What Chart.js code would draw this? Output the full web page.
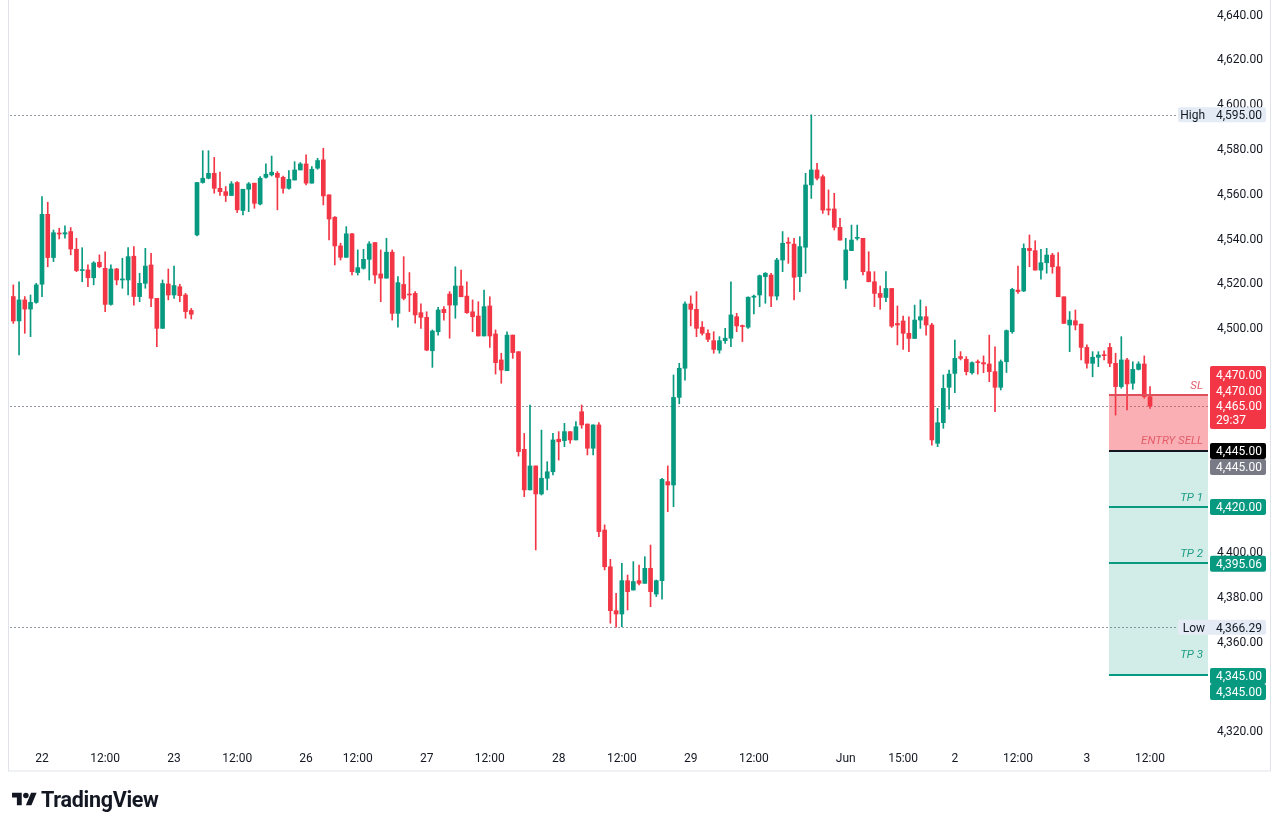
<!DOCTYPE html>
<html lang="en">
<head>
<meta charset="utf-8">
<title>1H candles with short position</title>
<script src="https://cdn.jsdelivr.net/npm/chart.js@4.4.1/dist/chart.umd.min.js"></script>
<style>
  html, body { margin: 0; padding: 0; background: #ffffff; }
  #wrap { position: relative; width: 1280px; height: 827px; overflow: hidden; }
  #chart { position: absolute; left: 0; top: 0; }
  .brand {
    position: absolute; left: 11px; top: 787px; height: 24px;
    display: flex; align-items: center; gap: 3px;
    font-family: Roboto, "Noto Sans", sans-serif; font-weight: 700; font-size: 21.5px;
    color: #131722; letter-spacing: -0.3px;
  }
</style>
</head>
<body>
<div id="wrap">
  <canvas id="chart" width="1280" height="827"></canvas>
  <div class="brand">
    <svg width="27" height="18" viewBox="0 0 36 26"><path d="M14 22H7V11H0V4h14v18zM28 22h-8l7.5-18h8L28 22z" fill="#131722"/><circle cx="20" cy="8" r="4" fill="#131722"/></svg>
    <span>TradingView</span>
  </div>
</div>
<script>
// hourly candles (oldest first)
const open = [
  4513.9, 4503.0, 4512.4, 4508.3, 4511.3, 4519.4, 4550.6, 4531.3, 4542.1, 4541.8,
  4542.9, 4535.0, 4525.5, 4525.8, 4522.3, 4529.2, 4526.5, 4510.4, 4526.2, 4521.3,
  4521.3, 4531.9, 4513.9, 4519.8, 4528.0, 4513.1, 4499.7, 4519.5, 4514.6, 4518.3,
  4514.6, 4507.7, 4541.4, 4564.8, 4566.7, 4568.9, 4562.2, 4560.7, 4559.0, 4564.8,
  4552.3, 4561.8, 4564.5, 4555.2, 4567.1, 4568.2, 4568.9, 4567.1, 4562.2, 4565.9,
  4570.4, 4573.1, 4564.5, 4571.2, 4574.9, 4559.3, 4549.3, 4536.5, 4531.4, 4541.9,
  4524.6, 4526.5, 4530.5, 4538.0, 4524.0, 4522.1, 4533.7, 4506.4, 4519.3, 4514.9,
  4515.3, 4506.7, 4504.6, 4489.7, 4498.2, 4508.2, 4515.0, 4510.1, 4518.6, 4514.1,
  4507.1, 4505.2, 4496.3, 4509.7, 4497.2, 4485.6, 4480.8, 4496.7, 4489.3, 4445.7,
  4427.6, 4438.3, 4425.8, 4432.8, 4435.7, 4450.2, 4449.6, 4453.6, 4449.9, 4462.5,
  4457.0, 4446.2, 4456.6, 4409.7, 4393.3, 4373.7, 4372.2, 4387.1, 4382.9, 4387.1,
  4385.9, 4392.6, 4381.1, 4387.1, 4431.3, 4429.8, 4468.9, 4481.9, 4510.6, 4508.2,
  4500.2, 4497.5, 4494.2, 4490.0, 4494.2, 4495.3, 4504.9, 4500.9, 4500.2, 4513.6,
  4514.6, 4522.8, 4523.5, 4514.1, 4530.2, 4537.9, 4537.3, 4522.8, 4535.9, 4563.7,
  4570.4, 4567.4, 4553.0, 4553.0, 4544.8, 4521.3, 4534.4, 4539.9, 4539.9, 4525.0,
  4520.5, 4515.3, 4513.5, 4517.5, 4501.9, 4503.0, 4497.5, 4495.2, 4503.4, 4504.9,
  4501.2, 4448.4, 4457.6, 4473.4, 4479.6, 4487.1, 4485.9, 4479.9, 4484.8, 4484.4,
  4483.8, 4480.4, 4473.4, 4484.8, 4498.2, 4516.8, 4516.4, 4535.4, 4534.4, 4525.7,
  4529.0, 4532.4, 4527.2, 4513.8, 4501.2, 4503.1, 4501.6, 4491.2, 4484.1, 4486.8,
  4487.8, 4491.2, 4484.1, 4473.7, 4485.6, 4475.2, 4481.4, 4483.8, 4469.2
];
const high = [
  4519.1, 4520.5, 4513.9, 4514.6, 4519.8, 4558.5, 4556.0, 4543.6, 4544.4, 4545.5,
  4544.7, 4539.9, 4535.7, 4528.0, 4529.5, 4532.5, 4533.9, 4528.0, 4526.5, 4531.0,
  4535.7, 4536.2, 4524.3, 4535.4, 4533.2, 4513.1, 4521.3, 4526.2, 4527.5, 4519.4,
  4515.3, 4508.6, 4564.8, 4579.0, 4579.0, 4576.0, 4569.4, 4563.0, 4565.2, 4565.2,
  4561.8, 4564.8, 4564.5, 4567.4, 4573.1, 4576.6, 4569.7, 4567.7, 4570.1, 4574.1,
  4573.7, 4577.1, 4571.9, 4575.6, 4580.1, 4559.3, 4549.6, 4537.7, 4545.1, 4542.1,
  4534.7, 4535.0, 4538.4, 4538.0, 4534.7, 4539.9, 4534.7, 4522.8, 4531.7, 4524.6,
  4516.1, 4510.6, 4507.1, 4499.0, 4509.1, 4509.4, 4516.1, 4527.2, 4525.7, 4520.5,
  4512.4, 4511.6, 4516.8, 4513.8, 4499.0, 4488.6, 4498.2, 4496.7, 4489.3, 4452.8,
  4465.5, 4438.3, 4454.3, 4440.2, 4452.9, 4453.6, 4457.3, 4453.6, 4458.1, 4465.5,
  4457.0, 4456.6, 4457.6, 4412.0, 4396.6, 4381.4, 4394.8, 4389.6, 4395.6, 4394.1,
  4397.8, 4403.0, 4387.4, 4432.8, 4438.3, 4478.9, 4484.1, 4511.5, 4514.2, 4516.1,
  4502.7, 4499.0, 4498.2, 4496.0, 4499.7, 4520.5, 4506.4, 4501.2, 4513.8, 4514.6,
  4523.5, 4524.6, 4524.3, 4531.0, 4542.9, 4540.2, 4539.9, 4540.6, 4568.9, 4595.0,
  4573.4, 4568.2, 4561.5, 4560.0, 4548.8, 4539.9, 4545.8, 4545.8, 4539.9, 4533.9,
  4525.0, 4518.6, 4525.0, 4517.5, 4509.7, 4505.2, 4504.9, 4510.1, 4512.4, 4509.4,
  4501.9, 4464.0, 4478.9, 4481.1, 4494.5, 4489.3, 4487.1, 4484.8, 4485.6, 4487.4,
  4496.7, 4491.5, 4485.6, 4499.0, 4517.6, 4527.5, 4537.4, 4541.4, 4538.8, 4535.0,
  4535.4, 4533.2, 4533.5, 4513.8, 4507.2, 4507.9, 4501.6, 4492.3, 4489.3, 4489.3,
  4489.7, 4493.0, 4488.6, 4496.0, 4486.3, 4484.8, 4484.8, 4487.4, 4473.7
];
const low = [
  4501.9, 4487.8, 4497.5, 4496.0, 4510.9, 4513.9, 4527.2, 4529.5, 4539.6, 4539.9,
  4532.5, 4525.0, 4520.5, 4518.3, 4519.1, 4526.8, 4507.2, 4510.1, 4519.1, 4517.6,
  4514.6, 4510.1, 4511.6, 4517.6, 4509.4, 4491.5, 4499.7, 4512.4, 4513.1, 4511.6,
  4504.2, 4503.9, 4541.0, 4564.5, 4566.4, 4560.0, 4559.0, 4556.3, 4559.0, 4551.4,
  4550.3, 4551.8, 4553.3, 4554.8, 4566.7, 4567.7, 4552.6, 4560.0, 4561.8, 4565.9,
  4570.4, 4563.7, 4564.5, 4570.7, 4554.8, 4539.2, 4528.0, 4530.2, 4531.4, 4523.5,
  4523.5, 4526.1, 4521.3, 4519.8, 4511.6, 4522.1, 4503.4, 4500.2, 4512.4, 4507.2,
  4502.0, 4499.7, 4489.7, 4482.3, 4496.7, 4503.4, 4495.3, 4504.2, 4513.8, 4506.4,
  4498.2, 4496.3, 4496.3, 4491.2, 4479.3, 4475.2, 4480.8, 4486.3, 4442.7, 4424.6,
  4427.6, 4400.8, 4425.3, 4427.6, 4434.3, 4440.9, 4446.9, 4448.4, 4449.9, 4455.1,
  4443.2, 4443.2, 4406.7, 4391.9, 4368.1, 4366.29, 4366.6, 4374.0, 4382.9, 4385.2,
  4385.9, 4375.5, 4380.0, 4378.8, 4417.9, 4420.1, 4466.0, 4476.6, 4500.8, 4496.0,
  4496.7, 4493.8, 4488.6, 4488.6, 4493.0, 4491.5, 4498.2, 4493.8, 4499.7, 4506.1,
  4509.4, 4510.9, 4509.4, 4512.4, 4525.0, 4528.7, 4512.4, 4516.1, 4524.3, 4557.7,
  4565.9, 4551.0, 4550.3, 4543.6, 4539.1, 4517.5, 4534.4, 4539.1, 4523.5, 4520.5,
  4509.4, 4508.2, 4511.6, 4500.1, 4492.3, 4490.3, 4489.3, 4495.2, 4499.7, 4496.7,
  4447.6, 4446.9, 4455.1, 4463.6, 4471.0, 4485.6, 4478.9, 4479.3, 4479.3, 4479.9,
  4475.9, 4462.5, 4472.2, 4480.0, 4497.5, 4515.3, 4516.1, 4527.2, 4525.7, 4521.6,
  4524.3, 4524.3, 4513.8, 4501.9, 4489.3, 4499.0, 4485.6, 4481.9, 4478.1, 4482.6,
  4485.6, 4482.6, 4461.0, 4473.0, 4463.3, 4472.5, 4481.1, 4468.5, 4464.0
];
const close = [
  4503.0, 4512.4, 4508.3, 4511.3, 4519.1, 4550.6, 4531.3, 4542.4, 4541.8, 4542.4,
  4535.1, 4525.5, 4525.8, 4522.3, 4528.9, 4527.2, 4510.4, 4526.2, 4521.3, 4521.6,
  4531.7, 4513.9, 4519.8, 4527.5, 4513.1, 4499.7, 4519.7, 4514.6, 4518.8, 4514.3,
  4507.2, 4506.0, 4564.8, 4566.7, 4568.9, 4562.2, 4560.7, 4559.0, 4564.2, 4552.6,
  4561.8, 4564.2, 4555.5, 4566.7, 4568.5, 4569.4, 4567.1, 4562.2, 4566.2, 4570.4,
  4573.1, 4564.5, 4570.7, 4574.6, 4558.8, 4548.5, 4536.5, 4531.4, 4541.9, 4525.0,
  4526.8, 4530.5, 4537.4, 4523.5, 4522.1, 4533.7, 4506.4, 4520.1, 4513.1, 4514.6,
  4505.7, 4504.6, 4490.0, 4498.5, 4507.9, 4506.7, 4510.1, 4518.6, 4513.8, 4506.7,
  4504.9, 4496.3, 4509.4, 4496.3, 4484.4, 4481.1, 4496.7, 4488.9, 4444.7, 4427.6,
  4438.3, 4425.8, 4432.8, 4435.7, 4449.9, 4449.1, 4453.6, 4449.9, 4455.8, 4456.6,
  4446.2, 4456.6, 4409.0, 4393.3, 4373.7, 4372.2, 4387.1, 4382.2, 4386.7, 4385.9,
  4392.6, 4382.2, 4387.1, 4432.3, 4429.8, 4468.9, 4481.9, 4510.6, 4508.2, 4499.7,
  4497.5, 4494.8, 4490.3, 4494.2, 4495.3, 4505.7, 4500.8, 4500.5, 4513.6, 4514.1,
  4523.2, 4524.3, 4514.1, 4530.2, 4537.7, 4537.7, 4522.5, 4536.2, 4563.7, 4570.4,
  4566.7, 4552.5, 4552.5, 4544.8, 4539.1, 4534.7, 4539.1, 4540.2, 4525.0, 4520.5,
  4515.3, 4513.5, 4517.5, 4500.7, 4501.2, 4497.5, 4495.2, 4503.4, 4504.9, 4501.2,
  4449.9, 4457.6, 4472.9, 4479.3, 4486.3, 4486.3, 4480.4, 4484.4, 4484.4, 4483.8,
  4480.4, 4473.4, 4484.8, 4498.7, 4517.1, 4516.1, 4535.4, 4534.4, 4525.7, 4529.0,
  4532.4, 4527.2, 4513.8, 4501.9, 4503.4, 4501.2, 4491.2, 4484.1, 4486.8, 4487.8,
  4487.5, 4484.1, 4473.7, 4485.6, 4474.9, 4481.4, 4483.8, 4469.2, 4465.0
];

// time axis: candle index of each label
const tickIndex = [5, 16, 28, 39, 51, 60, 72, 83, 95, 106, 118, 129, 145, 155, 164, 175, 187, 198];
const tickText = ["22", "12:00", "23", "12:00", "26", "12:00", "27", "12:00", "28", "12:00",
                  "29", "12:00", "Jun", "15:00", "2", "12:00", "3", "12:00"];
const priceTicks = [4320, 4340, 4360, 4380, 4400, 4420, 4440, 4460, 4480, 4500,
                    4520, 4540, 4560, 4580, 4600, 4620, 4640];

// short position drawing
const levelNames = ["SL", "ENTRY SELL", "TP 1", "TP 2", "TP 3"];
const levelValues = [4470, 4445, 4420, 4395.06, 4345];
const lastPrice = 4465;
const countdown = "29:37";
const rangeHigh = 4595;
const rangeLow = 4366.29;
const positionStart = 190.85; // candle index where the tool begins

const UP = "#089981";
const DOWN = "#f23645";
const FONT = "Roboto, 'Noto Sans', sans-serif";

const idx = open.map((_, i) => i);
const colors = idx.map(i => (close[i] >= open[i] ? UP : DOWN));
const fmt = v => v.toLocaleString("en-US", { minimumFractionDigits: 2, maximumFractionDigits: 2 });

function roundRect(ctx, x, y, w, h, r) {
  ctx.beginPath();
  ctx.moveTo(x + r, y);
  ctx.arcTo(x + w, y, x + w, y + h, r);
  ctx.arcTo(x + w, y + h, x, y + h, r);
  ctx.arcTo(x, y + h, x, y, r);
  ctx.arcTo(x, y, x + w, y, r);
  ctx.closePath();
  ctx.fill();
}

const overlay = {
  id: "overlay",
  beforeDatasetsDraw(chart) {
    const { ctx, chartArea: a, scales: { x, y } } = chart;
    ctx.save();
    // dotted high / low / last price lines
    ctx.setLineDash([2, 2]);
    ctx.lineWidth = 1;
    ctx.strokeStyle = "#9598a1";
    const dotted = (p, x2) => {
      const yy = Math.round(y.getPixelForValue(p)) + 0.5;
      ctx.beginPath(); ctx.moveTo(a.left, yy); ctx.lineTo(x2, yy); ctx.stroke();
    };
    dotted(rangeHigh, a.right - 30);
    dotted(rangeLow, a.right - 30);
    dotted(lastPrice, a.right);
    ctx.setLineDash([]);

    // risk / reward zones
    const x0 = x.getPixelForValue(positionStart);
    const ySL = y.getPixelForValue(levelValues[0]);
    const yEn = y.getPixelForValue(levelValues[1]);
    const yTP = y.getPixelForValue(levelValues[4]);
    ctx.fillStyle = "rgba(242, 54, 69, 0.4)";
    ctx.fillRect(x0, ySL, a.right - x0, yEn - ySL);
    ctx.fillStyle = "rgba(8, 153, 129, 0.18)";
    ctx.fillRect(x0, yEn, a.right - x0, yTP - yEn);
    ctx.restore();
  },
  afterDatasetsDraw(chart) {
    const { ctx, chartArea: a, scales: { x, y } } = chart;
    const x0 = x.getPixelForValue(positionStart);
    const lineColors = ["#e0505c", "#131722", UP, UP, UP];
    const textColors = ["#e35d69", "#e35d69", "#1c9c85", "#1c9c85", "#1c9c85"];
    const lift = [9, 10, 9, 9, 20];
    ctx.save();
    levelValues.forEach((v, i) => {
      const yy = Math.round(y.getPixelForValue(v));
      ctx.fillStyle = lineColors[i];
      ctx.fillRect(x0, yy - 1, a.right - x0, 2);
      ctx.font = "italic 11.5px " + FONT;
      ctx.textAlign = "right";
      ctx.textBaseline = "middle";
      ctx.fillStyle = textColors[i];
      ctx.fillText(levelNames[i], a.right - 5, yy - lift[i]);
    });
    ctx.restore();
  },
  afterDraw(chart) {
    const { ctx, chartArea: a, scales: { y } } = chart;
    const bx = a.right + 2;
    const bw = 56;
    ctx.save();
    ctx.font = "12px " + FONT;
    ctx.textBaseline = "middle";
    ctx.textAlign = "left";

    const tag = (yc, bg, text) => {
      ctx.fillStyle = bg;
      roundRect(ctx, bx, yc - 8, bw, 16, 2);
      ctx.fillStyle = "#ffffff";
      ctx.fillText(text, bx + 6, yc + 1.5);
    };

    // stop-loss + last price + countdown block
    const ySL = y.getPixelForValue(levelValues[0]);
    const top = ySL - 29;
    ctx.fillStyle = DOWN;
    roundRect(ctx, bx, top, bw, 63, 2);
    ctx.fillStyle = "#ffffff";
    ctx.fillText(fmt(levelValues[0]), bx + 6, top + 10);
    ctx.fillText(fmt(levelValues[0]), bx + 6, top + 26);
    ctx.fillText(fmt(lastPrice), bx + 6, top + 41.5);
    ctx.fillText(countdown, bx + 6, top + 55);

    const yEn = y.getPixelForValue(levelValues[1]);
    tag(yEn, "#000000", fmt(levelValues[1]));
    tag(yEn + 16, "#787b86", fmt(levelValues[1]));
    tag(y.getPixelForValue(levelValues[2]), UP, fmt(levelValues[2]));
    tag(y.getPixelForValue(levelValues[3]) + 1, UP, fmt(levelValues[3]));
    const y3 = y.getPixelForValue(levelValues[4]) + 1;
    tag(y3, UP, fmt(levelValues[4]));
    tag(y3 + 16, UP, fmt(levelValues[4]));

    // high / low markers
    const marker = (p, name) => {
      const yc = y.getPixelForValue(p);
      ctx.fillStyle = "#e4ebf5";
      roundRect(ctx, a.right - 30, yc - 7.5, bw + 32, 15, 2);
      ctx.fillStyle = "#131722";
      ctx.textAlign = "right";
      ctx.fillText(name, a.right - 3, yc + 1.5);
      ctx.textAlign = "left";
      ctx.fillText(fmt(p), bx + 6, yc + 1.5);
    };
    marker(rangeHigh, "High");
    marker(rangeLow, "Low");

    // card frame
    ctx.strokeStyle = "#e0e3eb";
    ctx.lineWidth = 1;
    ctx.strokeRect(8.5, -1, 1262, 772);
    ctx.restore();
  }
};

new Chart(document.getElementById("chart"), {
  type: "bar",
  data: {
    datasets: [
      {
        label: "Body",
        data: idx.map(i => ({ x: i, y: [open[i], close[i]] })),
        backgroundColor: colors,
        borderWidth: 0,
        barThickness: 4,
        minBarLength: 1,
        grouped: false,
      },
      {
        label: "Wick",
        data: idx.map(i => ({ x: i, y: [low[i], high[i]] })),
        backgroundColor: colors,
        borderWidth: 0,
        barThickness: 1,
        grouped: false,
      },
    ],
  },
  options: {
    responsive: false,
    animation: false,
    layout: { padding: { left: 10, right: 10, top: 2, bottom: 57 } },
    plugins: { legend: { display: false }, tooltip: { enabled: false } },
    scales: {
      x: {
        type: "linear",
        min: -0.575,
        max: 208.1,
        offset: false,
        grid: { display: false, drawTicks: false },
        border: { display: false },
        afterBuildTicks: s => { s.ticks = tickIndex.map(v => ({ value: v })); },
        afterFit: s => { s.height = 25; s.paddingLeft = 0; s.paddingRight = 0; },
        ticks: {
          autoSkip: false,
          maxRotation: 0,
          padding: 7,
          color: "#131722",
          font: { family: FONT, size: 12 },
          callback: (v, i) => tickText[i],
        },
      },
      y: {
        position: "right",
        min: 4313.75,
        max: 4645.36,
        beginAtZero: false,
        grid: { display: false, drawTicks: false },
        border: { display: false },
        afterBuildTicks: s => { s.ticks = priceTicks.map(v => ({ value: v })); },
        afterFit: s => { s.width = 62; s.paddingTop = 0; s.paddingBottom = 0; },
        ticks: {
          padding: 9,
          labelOffset: 1.5,
          color: "#131722",
          font: { family: FONT, size: 12 },
          callback: v => fmt(v),
        },
      },
    },
  },
  plugins: [overlay],
});
</script>
</body>
</html>
